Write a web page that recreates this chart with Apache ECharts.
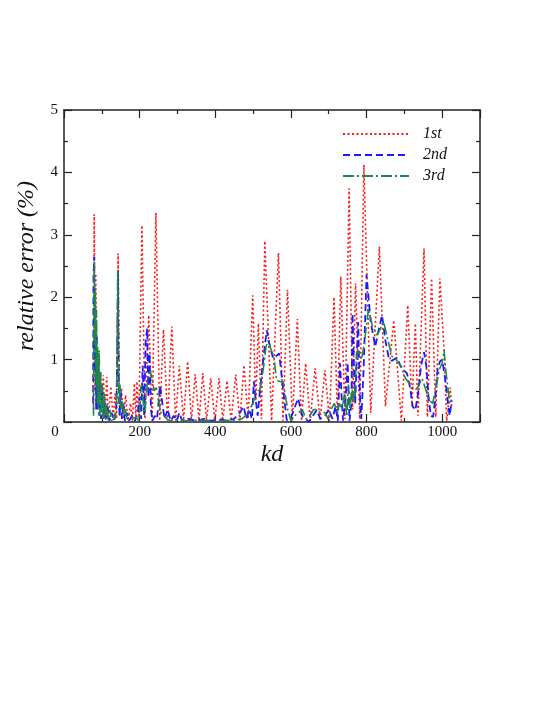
<!DOCTYPE html>
<html>
<head>
<meta charset="utf-8">
<script src="https://cdn.jsdelivr.net/npm/echarts@6/dist/echarts.min.js"></script>
<style>
  html, body { margin: 0; padding: 0; background: #fff; }
  #chart { width: 545px; height: 705px; }
</style>
</head>
<body>
<div id="chart"></div>
<script>
// [kd, relative error %]
const first = [
  [78,0.2],[80,3.33],[82,0.5],[84,2.38],[87,0.3],[90,1.1],[93,0.2],[97,0.8],[100,0.1],[104,0.75],
  [108,0.05],[113,0.72],[117,0.05],[124,0.57],[130,0.03],[135,0.45],[139,0.05],[143,2.7],[147,0.1],
  [152,0.55],[157,0.05],[163,0.43],[169,0.02],[176,0.3],[181,0.02],[186,0.62],[190,0.1],[193,0.65],
  [198,0.02],[206,3.15],[214,0.05],[224,1.71],[233,0.02],[243,3.35],[253,0.02],[263,1.48],[274,0.02],
  [285,1.53],[295,0.02],[305,0.9],[316,0.02],[327,0.97],[337,0.02],[347,0.77],[357,0.02],[367,0.78],
  [377,0.02],[388,0.7],[399,0.02],[410,0.7],[420,0.02],[431,0.66],[442,0.02],[454,0.76],[465,0.02],
  [476,0.91],[487,0.05],[499,2.03],[507,0.3],[514,1.58],[522,0.05],[531,2.9],[549,0.02],[567,2.71],
  [579,0.02],[591,2.12],[604,0.02],[617,1.65],[628,0.02],[639,0.94],[651,0.02],[664,0.86],[677,0.02],
  [690,0.83],[702,0.02],[714,2.0],[723,0.05],[732,2.33],[743,0.05],[754,3.74],[763,0.2],[771,2.22],
  [782,0.05],[793,4.12],[811,0.15],[834,2.81],[850,0.25],[872,1.63],[892,0.02],[909,1.87],[920,0.25],
  [929,1.58],[936,0.1],[952,2.78],[961,0.08],[972,2.3],[983,0.08],[994,2.3],[1005,1.15],[1012,0.02],
  [1021,0.55],[1025,0.25]
];
const second = [
  [77,0.3],[78,2.35],[80,2.65],[81,0.8],[83,1.75],[85,0.2],[87,1.4],[89,0.2],[91,1.0],[93,0.1],
  [95,0.7],[98,0.05],[101,0.6],[104,0.05],[107,0.4],[111,0.02],[115,0.25],[120,0.02],[126,0.15],
  [132,0.02],[138,0.2],[141,1.0],[143,2.42],[145,0.5],[147,0.1],[150,0.5],[153,0.05],[157,0.3],
  [161,0.02],[166,0.15],[172,0.02],[180,0.1],[188,0.02],[195,0.15],[200,0.4],[204,0.05],[208,0.9],
  [212,0.1],[216,1.3],[220,1.5],[223,0.4],[226,1.1],[230,0.2],[234,0.02],[240,0.1],[246,0.05],
  [254,0.58],[260,0.3],[266,0.05],[274,0.2],[282,0.02],[290,0.1],[298,0.02],[305,0.15],[312,0.02],
  [330,0.05],[350,0.02],[370,0.05],[390,0.02],[410,0.05],[430,0.02],[450,0.05],[465,0.15],[475,0.25],
  [482,0.05],[490,0.2],[497,0.05],[502,0.65],[508,0.3],[512,0.1],[518,0.5],[525,0.9],[536,1.47],
  [545,1.2],[553,1.02],[560,1.05],[569,1.1],[578,0.6],[589,0.03],[598,0.05],[608,0.2],[619,0.38],
  [630,0.1],[648,0.0],[658,0.1],[668,0.19],[678,0.05],[690,0.1],[700,0.2],[710,0.05],[718,0.25],
  [724,0.02],[730,0.94],[735,0.3],[738,0.02],[745,0.4],[750,0.95],[755,0.02],[760,0.3],[763,1.74],
  [767,0.8],[770,0.3],[775,1.2],[778,1.6],[782,0.5],[786,0.05],[792,0.8],[800,2.36],[811,1.6],
  [823,1.21],[833,1.5],[841,1.71],[850,1.3],[858,1.05],[866,0.98],[872,1.0],[880,1.03],[890,0.9],
  [900,0.82],[907,0.78],[915,0.55],[922,0.25],[929,0.19],[936,0.45],[944,0.9],[952,1.12],[958,0.9],
  [964,0.4],[970,0.1],[976,0.08],[982,0.4],[988,0.85],[994,0.97],[1000,1.0],[1004,0.97],[1010,0.6],
  [1016,0.25],[1020,0.1],[1025,0.35]
];
const third = [
  [78,0.1],[80,2.57],[82,1.2],[83,2.1],[85,0.6],[86,1.8],[88,0.3],[89,1.2],[91,0.2],[93,1.15],
  [95,0.1],[97,0.8],[99,0.1],[101,0.6],[104,0.05],[107,0.45],[110,0.05],[113,0.3],[117,0.02],
  [121,0.2],[126,0.02],[130,0.1],[135,0.05],[139,0.3],[142,2.43],[144,0.9],[146,0.3],[148,0.6],
  [151,0.2],[154,0.35],[158,0.1],[162,0.2],[167,0.05],[172,0.12],[180,0.05],[190,0.08],[198,0.02],
  [200,0.1],[203,0.55],[206,0.6],[210,0.3],[214,0.15],[218,0.5],[222,0.7],[228,0.82],[233,0.7],
  [238,0.5],[244,0.55],[250,0.35],[256,0.15],[264,0.1],[272,0.05],[282,0.02],[300,0.03],[330,0.02],
  [360,0.03],[390,0.02],[420,0.02],[450,0.03],[470,0.05],[480,0.1],[490,0.2],[500,0.3],[508,0.5],
  [518,0.51],[527,0.85],[534,1.2],[540,1.31],[548,1.15],[555,1.05],[562,0.67],[570,0.65],[580,0.64],
  [586,0.4],[592,0.19],[600,0.02],[610,0.1],[620,0.15],[630,0.2],[640,0.05],[650,0.1],[660,0.2],
  [668,0.2],[678,0.15],[690,0.15],[698,0.05],[706,0.2],[715,0.3],[722,0.15],[728,0.3],[735,0.2],
  [742,0.45],[748,0.1],[752,0.6],[756,0.2],[762,0.55],[767,0.3],[774,1.13],[780,1.1],[787,1.0],
  [795,1.3],[805,1.82],[815,1.55],[828,1.39],[837,1.5],[845,1.61],[855,1.35],[867,1.05],[878,1.0],
  [890,0.9],[902,0.71],[915,0.6],[928,0.51],[935,0.55],[947,0.7],[955,0.55],[965,0.35],[975,0.3],
  [985,0.6],[993,0.85],[1000,0.95],[1005,1.15],[1010,0.8],[1016,0.5],[1020,0.3],[1025,0.35]
];
const seriesNames = ['1st', '2nd', '3rd'];

const serif = 'Liberation Serif';
const axisColor = '#222';

const chart = echarts.init(document.getElementById('chart'));

const tickStyle = {
  inside: true, length: 8, lineStyle: { color: axisColor, width: 1.2 }
};
const minorStyle = {
  show: true, splitNumber: 2, length: 4, lineStyle: { color: axisColor, width: 1.2 }
};
const frameLine = { onZero: false, lineStyle: { color: axisColor, width: 1.5 } };

chart.setOption({
  animation: false,
  backgroundColor: '#fff',
  grid: { left: 64, top: 110, width: 416, height: 312 },
  legend: {
    left: 342, top: 126, orient: 'vertical', padding: 0,
    itemWidth: 66, itemHeight: 10, itemGap: 5,
    itemStyle: { opacity: 0 },
    textStyle: { fontFamily: serif, fontStyle: 'italic', fontSize: 16, color: '#111', padding: [0, 0, 0, 9] },
    data: seriesNames
  },
  xAxis: [{
    type: 'value', min: 0, max: 1100, interval: 200,
    name: 'kd', nameLocation: 'middle', nameGap: 21,
    nameTextStyle: { fontFamily: serif, fontStyle: 'italic', fontSize: 24, color: '#111' },
    axisLine: frameLine,
    axisTick: tickStyle, minorTick: minorStyle,
    axisLabel: {
      fontFamily: serif, fontSize: 15, color: '#111', margin: 3, showMaxLabel: false,
      formatter: v => v === 0 ? '{z|0}' : String(v),
      rich: { z: { fontFamily: serif, fontSize: 15, color: '#111', padding: [0, 18, 0, 0] } }
    },
    splitLine: { show: false }
  }, {
    type: 'value', min: 0, max: 1100, interval: 200, position: 'top',
    axisLine: frameLine,
    axisTick: tickStyle, minorTick: minorStyle,
    axisLabel: { show: false }, splitLine: { show: false }
  }],
  yAxis: [{
    type: 'value', min: 0, max: 5, interval: 1,
    name: 'relative error (%)', nameLocation: 'middle', nameGap: 25,
    nameTextStyle: { fontFamily: serif, fontStyle: 'italic', fontSize: 24, color: '#111' },
    axisLine: frameLine,
    axisTick: tickStyle, minorTick: minorStyle,
    axisLabel: {
      fontFamily: serif, fontSize: 15, color: '#111', margin: 6,
      formatter: v => v === 0 ? '' : String(v)
    },
    splitLine: { show: false }
  }, {
    type: 'value', min: 0, max: 5, interval: 1, position: 'right',
    axisLine: frameLine,
    axisTick: tickStyle, minorTick: minorStyle,
    axisLabel: { show: false }, splitLine: { show: false }
  }],
  series: [{
    name: seriesNames[0], type: 'line', data: first, symbol: 'none', clip: true,
    itemStyle: { color: '#ff1a1a' },
    lineStyle: { color: '#ff1a1a', width: 1.6, type: [2, 2.5] }
  }, {
    name: seriesNames[1], type: 'line', data: second, symbol: 'none', clip: true,
    itemStyle: { color: '#1a1aff' },
    lineStyle: { color: '#1a1aff', width: 1.8, type: [7, 4] }
  }, {
    name: seriesNames[2], type: 'line', data: third, symbol: 'none', clip: true,
    itemStyle: { color: '#1e8a45' },
    lineStyle: { color: '#1e8a45', width: 1.6, type: [11, 3, 2, 3] }
  }]
});
</script>
</body>
</html>
